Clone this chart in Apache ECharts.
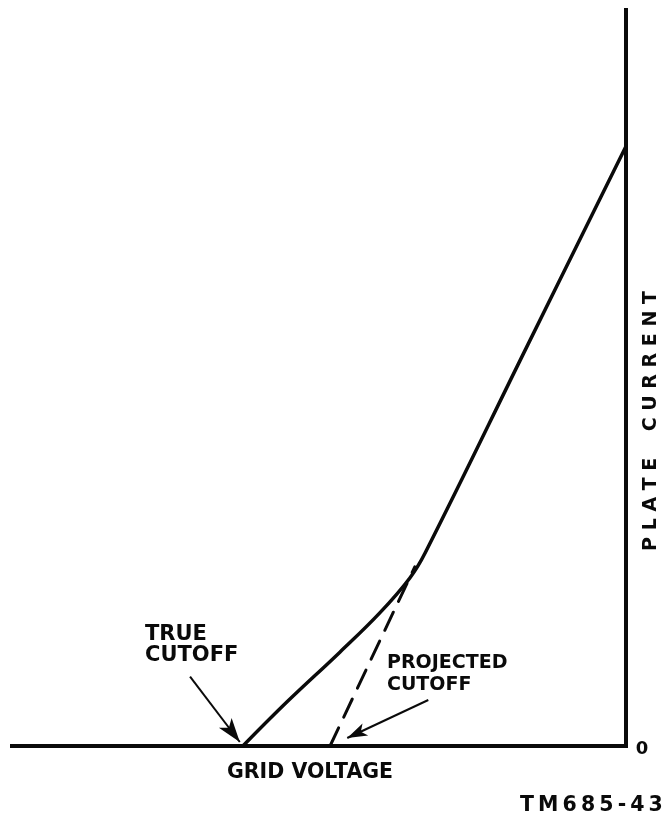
<!DOCTYPE html>
<html>
<head>
<meta charset="utf-8">
<style>
  html, body { margin: 0; padding: 0; background: #fff; }
  #chart { width: 666px; height: 821px; }
</style>
<script src="https://cdn.jsdelivr.net/npm/echarts@6/dist/echarts.min.js"></script>
</head>
<body>
<div id="chart"></div>
<script>
// Grid voltage (negative, arbitrary units) vs plate current (arbitrary units)
const plateCurve = [[-62.4, 0], [-55.2, 7.2], [-46.6, 15.3], [-40.1, 21.7], [-35.2, 27.4], [-32.7, 31.5], [-16.0, 65.4], [0, 97.8]];
const projection = [[-48.2, 0], [-34.4, 29.2]];
const trueCutoffArrow = [[-71.0, 11.3], [-62.9, 0.65]];
const projectedCutoffArrow = [[-32.2, 7.5], [-45.4, 1.3]];
const xRange = [-100, 0];
const yRange = [0, 120];

const INK = '#0a0a0a';
const FONT = 'bold 21px "DejaVu Sans"';

const chart = echarts.init(document.getElementById('chart'), null, { renderer: 'canvas' });

function arrow(pts, headSize) {
  return {
    silent: true,
    animation: false,
    symbol: ['none', 'arrow'],
    symbolSize: headSize,
    lineStyle: { color: INK, width: 2, type: 'solid' },
    label: { show: false },
    data: [[{ coord: pts[0] }, { coord: pts[1] }]]
  };
}

chart.setOption({
  animation: false,
  backgroundColor: '#fff',
  grid: { left: 12, right: 40, top: 10, bottom: 75 },
  xAxis: {
    type: 'value', min: xRange[0], max: xRange[1],
    axisLine: { show: true, onZero: false, lineStyle: { color: INK, width: 4, cap: 'square' } },
    axisTick: { show: false }, axisLabel: { show: false }, splitLine: { show: false }
  },
  yAxis: {
    type: 'value', position: 'right', min: yRange[0], max: yRange[1],
    axisLine: { show: true, onZero: false, lineStyle: { color: INK, width: 4, cap: 'square' } },
    axisTick: { show: false }, axisLabel: { show: false }, splitLine: { show: false }
  },
  series: [
    {
      name: 'plate current', type: 'line', data: plateCurve, smooth: 0.4,
      symbol: 'none', lineStyle: { color: INK, width: 3.5, cap: 'round', join: 'round' },
      markLine: arrow(trueCutoffArrow, [12, 24])
    },
    {
      name: 'projection', type: 'line', data: projection, symbol: 'none',
      lineStyle: { color: INK, width: 3, type: [20, 12], cap: 'round' },
      markLine: arrow(projectedCutoffArrow, [10, 20])
    }
  ],
  graphic: [
    { type: 'text', x: 145, y: 635, style: { text: 'TRUE', font: FONT, fill: INK, align: 'left', verticalAlign: 'middle' } },
    { type: 'text', x: 145, y: 656, style: { text: 'CUTOFF', font: FONT, fill: INK, align: 'left', verticalAlign: 'middle' } },
    { type: 'text', x: 387, y: 663, style: { text: 'PROJECTED', font: 'bold 19px "DejaVu Sans"', fill: INK, align: 'left', verticalAlign: 'middle' } },
    { type: 'text', x: 387, y: 685, style: { text: 'CUTOFF', font: 'bold 19px "DejaVu Sans"', fill: INK, align: 'left', verticalAlign: 'middle' } },
    { type: 'text', x: 227, y: 773, style: { text: 'GRID VOLTAGE', font: 'bold 20.5px "DejaVu Sans"', fill: INK, align: 'left', verticalAlign: 'middle' } },
    { type: 'text', x: 642, y: 749, style: { text: '0', font: 'bold 18px "DejaVu Sans"', fill: INK, align: 'center', verticalAlign: 'middle' } },
    { type: 'text', x: 520, y: 806, style: { text: 'T\u2009M\u20096\u20098\u20095\u2009-\u20094\u20093', font: 'bold 20.5px "DejaVu Sans"', fill: INK, align: 'left', verticalAlign: 'middle' } },
    { type: 'text', x: 651, y: 421, rotation: Math.PI / 2,
      style: { text: 'P L A T E    C U R R E N T', font: 'bold 19px "DejaVu Sans"', fill: INK, align: 'center', verticalAlign: 'middle' } }
  ]
});
</script>
</body>
</html>
